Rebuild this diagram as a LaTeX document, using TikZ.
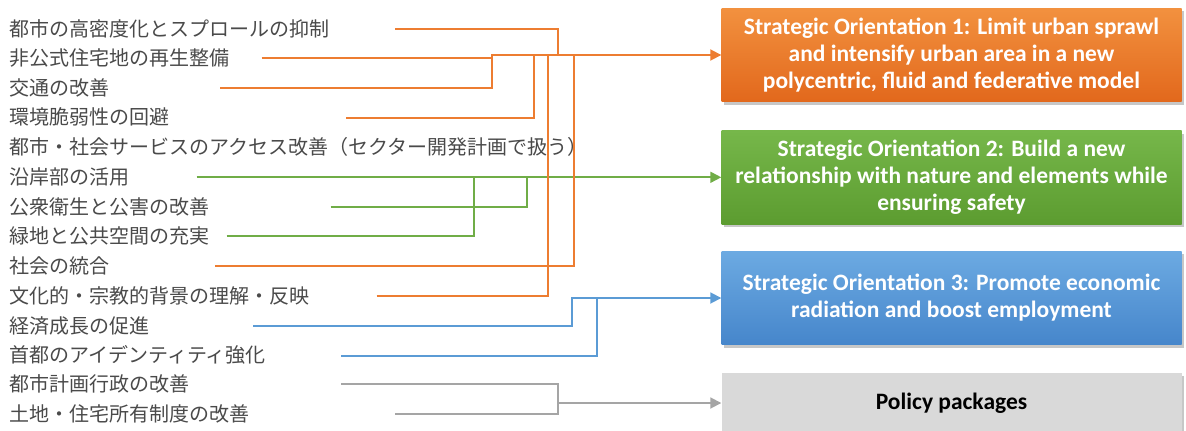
\documentclass[tikz,border=0pt]{standalone}
\usepackage{fontspec}
\setmainfont{Carlito}
\newfontfamily\jpfont{Noto Sans CJK JP}
\usetikzlibrary{arrows.meta,shadows}
\definecolor{txtgray}{HTML}{4A4A4A}
\definecolor{lorange}{HTML}{ED7D31}
\definecolor{lgreen}{HTML}{70AD47}
\definecolor{lblue}{HTML}{5B9BD5}
\definecolor{lgray}{HTML}{A5A5A5}
\definecolor{otop}{HTML}{F2913F}
\definecolor{obot}{HTML}{E2681C}
\definecolor{gtop}{HTML}{76B74A}
\definecolor{gbot}{HTML}{5C9C30}
\definecolor{btop}{HTML}{6CAAE2}
\definecolor{bbot}{HTML}{4686CB}
\definecolor{kbox}{HTML}{D9D9D9}
\tikzset{
  jtext/.style={anchor=west, inner sep=0pt, text=txtgray, font=\jpfont\fontsize{20}{24}\selectfont},
  sobox/.style={minimum width=460pt, minimum height=93.5pt, inner sep=0pt, align=center,
    text=white, font=\bfseries\fontsize{23.5}{27}\selectfont,
    drop shadow={shadow xshift=2.5pt, shadow yshift=-3pt, fill=black, opacity=0.22}},
  conn/.style={line width=1.8pt},
  arr/.style={-{Triangle[length=11pt,width=11pt]}},
}
\begin{document}
\begin{tikzpicture}[x=1pt,y=-1pt]
\useasboundingbox (0,0) rectangle (1186,431);
% left texts
\node[jtext] (t1) at (9,28.5) {都市の高密度化とスプロールの抑制};
\node[jtext] (t2) at (9,58) {非公式住宅地の再生整備};
\node[jtext] (t3) at (9,87.5) {交通の改善};
\node[jtext] (t4) at (9,117) {環境脆弱性の回避};
\node[jtext] (t5) at (9,146.7) {都市・社会サービスのアクセス改善（セクター開発計画で扱う）};
\node[jtext] (t6) at (9,177) {沿岸部の活用};
\node[jtext] (t7) at (9,206.5) {公衆衛生と公害の改善};
\node[jtext] (t8) at (9,236) {緑地と公共空間の充実};
\node[jtext] (t9) at (9,265.5) {社会の統合};
\node[jtext] (t10) at (9,295.5) {文化的・宗教的背景の理解・反映};
\node[jtext] (t11) at (9,325.5) {経済成長の促進};
\node[jtext] (t12) at (9,355) {首都のアイデンティティ強化};
\node[jtext] (t13) at (9,384) {都市計画行政の改善};
\node[jtext] (t14) at (9,413.5) {土地・住宅所有制度の改善};
% boxes
\node[sobox, top color=otop, bottom color=obot] (b1) at (951.5,55)
  {Strategic Orientation 1: Limit urban sprawl\\and intensify urban area in a new\\polycentric, fluid and federative model};
\node[sobox, top color=gtop, bottom color=gbot] (b2) at (951.5,177.3)
  {Strategic Orientation 2: Build a new\\relationship with nature and elements while\\ensuring safety};
\node[sobox, top color=btop, bottom color=bbot] (b3) at (951.5,298)
  {Strategic Orientation 3: Promote economic\\radiation and boost employment};
\node[sobox, fill=kbox, text=black, minimum height=60pt] (b4) at (951.5,403) {Policy packages};
% line start points
\coordinate (s1) at (395,29);
\coordinate (s2) at (261.7,58.3);
\coordinate (s3) at (220,87.7);
\coordinate (s4) at (346,117.7);
\coordinate (s6) at (196.7,177.3);
\coordinate (s7) at (330.7,207.3);
\coordinate (s8) at (226.7,236);
\coordinate (s9) at (215,265.7);
\coordinate (s10) at (376.7,296);
\coordinate (s11) at (253.3,326);
\coordinate (s12) at (341,355.7);
\coordinate (s13) at (341,384.3);
\coordinate (s14) at (395,414);
% junctions
\coordinate (oj0) at (491.7,55);
\coordinate (oj1) at (534,55);
\coordinate (oj2) at (548.3,55);
\coordinate (oj3) at (557.7,55);
\coordinate (oj4) at (574.3,55);
\coordinate (gj1) at (474,177.3);
\coordinate (gj2) at (526.7,177.3);
\coordinate (bj1) at (572.3,298);
\coordinate (bj2) at (596.7,298);
\coordinate (kj) at (557.7,403);
% green
\draw[conn, lgreen, arr] (s6) -- (b2.west);
\draw[conn, lgreen] (s8) -| (gj1);
\draw[conn, lgreen] (s7) -| (gj2);
% blue
\draw[conn, lblue, arr] (s11) -| (bj1) -- (b3.west);
\draw[conn, lblue] (s12) -| (bj2);
% gray
\draw[conn, lgray] (s13) -| (kj) |- (s14);
\draw[conn, lgray, arr] (kj) -- (b4.west);
% orange
\draw[conn, lorange, arr] (s3) -| (oj0) -- (b1.west);
\draw[conn, lorange] (s2) -- (s2 -| oj0);
\draw[conn, lorange] (s1) -| (oj3);
\draw[conn, lorange] (s4) -| (oj1);
\draw[conn, lorange] (s10) -| (oj2);
\draw[conn, lorange] (s9) -| (oj4);
\end{tikzpicture}
\end{document}
